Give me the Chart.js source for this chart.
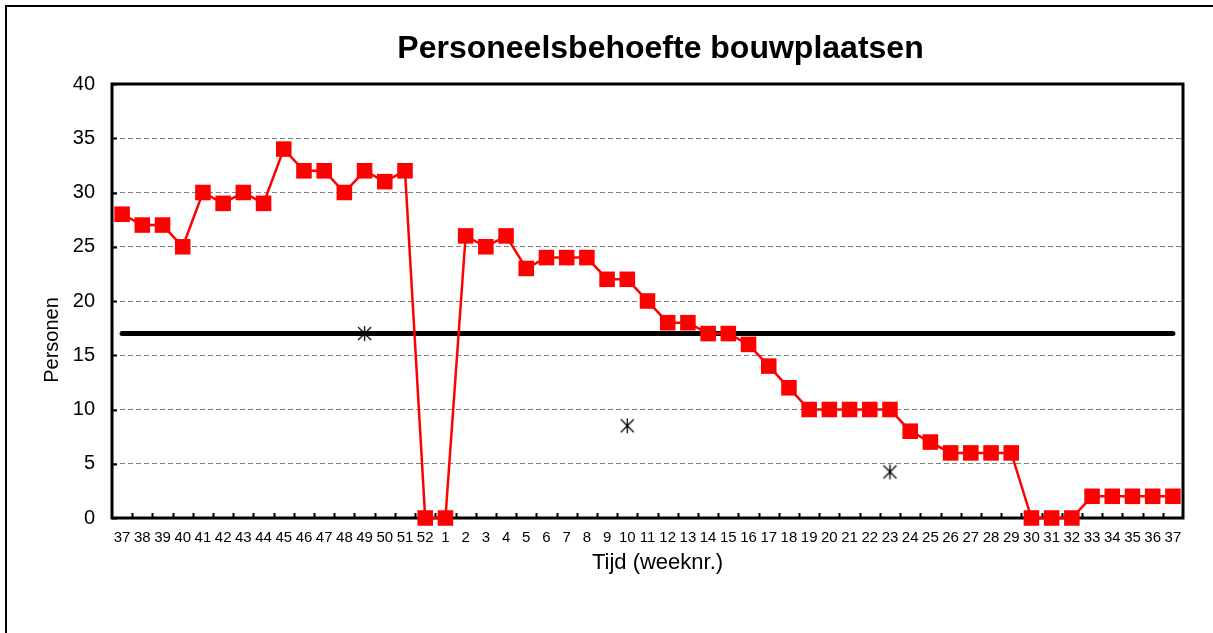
<!DOCTYPE html>
<html>
<head>
<meta charset="utf-8">
<script src="https://cdn.jsdelivr.net/npm/chart.js@4"></script>
<style>
  body { margin: 0; background: #fff; }
  #wrap { position: relative; width: 1213px; height: 633px; overflow: hidden; }
  #frame { position: absolute; left: 5px; top: 5px; width: 1400px; height: 800px; border: 2px solid #000; }
  #salaryChart { position: absolute; left: 0; top: 0; }
</style>
</head>
<body>
<div id="wrap">
  <div id="frame"></div>
  <canvas id="salaryChart" width="1213" height="633"></canvas>
</div>
<script>
// week numbers (Sept to Sept)
const weeks = ['37','38','39','40','41','42','43','44','45','46','47','48','49','50','51','52',
  '1','2','3','4','5','6','7','8','9','10','11','12','13','14','15','16','17','18','19','20',
  '21','22','23','24','25','26','27','28','29','30','31','32','33','34','35','36','37'];

// personnel needed per week
const personen = [28,27,27,25,30,29,30,29,34,32,32,30,32,31,32,0,
  0,26,25,26,23,24,24,24,22,22,20,18,18,17,17,16,14,12,10,10,
  10,10,10,8,7,6,6,6,6,0,0,0,2,2,2,2,2];

// available staff (flat line)
const beschikbaar = [17,17,17,17,17,17,17,17,17,17,17,17,17,17,17,17,
  17,17,17,17,17,17,17,17,17,17,17,17,17,17,17,17,17,17,17,17,
  17,17,17,17,17,17,17,17,17,17,17,17,17,17,17,17,17];

// star markers
const sterren = [null,null,null,null,null,null,null,null,null,null,null,null,17,null,null,null,
  null,null,null,null,null,null,null,null,null,8.5,null,null,null,null,null,null,null,null,null,null,
  null,null,4.25,null,null,null,null,null,null,null,null,null,null,null,null,null,null];

const yTicks = [0, 5, 10, 15, 20, 25, 30, 35, 40];

const FONT = "'Liberation Sans', Arial, sans-serif";

// excel style asterisk marker (x + vertical bar)
function makeStar() {
  const c = document.createElement('canvas');
  c.width = 17; c.height = 17;
  const g = c.getContext('2d');
  g.strokeStyle = '#000';
  g.lineWidth = 1.3;
  g.beginPath();
  g.moveTo(2, 2); g.lineTo(15, 15);
  g.moveTo(15, 2); g.lineTo(2, 15);
  g.moveTo(8.5, 1); g.lineTo(8.5, 16);
  g.stroke();
  return c;
}

// frame, inner tick marks and titles
const decorPlugin = {
  id: 'decor',
  beforeDatasetsDraw(chart) {
    const { ctx, chartArea, scales } = chart;
    const x = scales.x, y = scales.y;
    ctx.save();
    ctx.strokeStyle = '#000';
    ctx.lineWidth = 2;
    // x ticks at category boundaries, pointing inward
    for (let i = 1; i < weeks.length; i++) {
      const px = Math.round((x.getPixelForValue(i - 1) + x.getPixelForValue(i)) / 2) + 0.5;
      ctx.beginPath();
      ctx.moveTo(px, chartArea.bottom);
      ctx.lineTo(px, chartArea.bottom - 5);
      ctx.stroke();
    }
    // y ticks pointing inward
    yTicks.forEach(v => {
      const py = Math.round(y.getPixelForValue(v)) + 0.5;
      ctx.beginPath();
      ctx.moveTo(chartArea.left, py);
      ctx.lineTo(chartArea.left + 5, py);
      ctx.stroke();
    });
    ctx.lineWidth = 3;
    ctx.strokeRect(chartArea.left, chartArea.top, chartArea.right - chartArea.left, chartArea.bottom - chartArea.top);
    ctx.restore();
  },
  afterDraw(chart) {
    const { ctx, chartArea } = chart;
    const cx = (chartArea.left + chartArea.right) / 2;
    ctx.save();
    ctx.fillStyle = '#000';
    ctx.textAlign = 'center';
    ctx.textBaseline = 'middle';
    ctx.font = 'bold 32px ' + FONT;
    ctx.fillText('Personeelsbehoefte bouwplaatsen', cx + 13, 49);
    ctx.font = '22px ' + FONT;
    ctx.fillText('Tijd (weeknr.)', cx + 10, 563);
    ctx.translate(52, 340);
    ctx.rotate(-Math.PI / 2);
    ctx.font = '20px ' + FONT;
    ctx.fillText('Personen', 0, 0);
    ctx.restore();
  }
};

const ctx = document.getElementById('salaryChart').getContext('2d');
new Chart(ctx, {
  type: 'line',
  data: {
    labels: weeks,
    datasets: [
      {
        label: 'Personen',
        data: personen,
        borderColor: '#FF0000',
        backgroundColor: '#FF0000',
        borderWidth: 2.5,
        pointStyle: 'rect',
        pointRadius: 11,
        pointBorderWidth: 0,
        tension: 0,
        clip: false
      },
      {
        label: 'Beschikbaar',
        data: beschikbaar,
        borderColor: '#000',
        borderWidth: 5,
        borderCapStyle: 'round',
        pointRadius: 0,
        tension: 0
      },
      {
        label: 'Gemiddeld',
        data: sterren,
        showLine: false,
        pointStyle: makeStar(),
        pointRadius: 8,
        clip: false
      }
    ]
  },
  options: {
    responsive: false,
    animation: false,
    layout: { padding: { top: 84, right: 30, left: 0, bottom: 0 } },
    plugins: {
      legend: { display: false },
      tooltip: { enabled: false },
      title: { display: false }
    },
    scales: {
      x: {
        offset: true,
        grid: { display: false, drawTicks: false },
        border: { display: false },
        ticks: {
          autoSkip: false,
          maxRotation: 0,
          padding: 11,
          color: '#000',
          font: { family: FONT, size: 15 }
        },
        afterFit(scale) { scale.height = 115; }
      },
      y: {
        min: 0,
        max: 40,
        grid: { color: '#808080', lineWidth: 1, drawTicks: false },
        border: { display: false, dash: [5, 3] },
        ticks: {
          stepSize: 5,
          padding: 17,
          color: '#000',
          font: { family: FONT, size: 20 }
        },
        afterFit(scale) { scale.width = 112; }
      }
    }
  },
  plugins: [decorPlugin]
});
</script>
</body>
</html>
